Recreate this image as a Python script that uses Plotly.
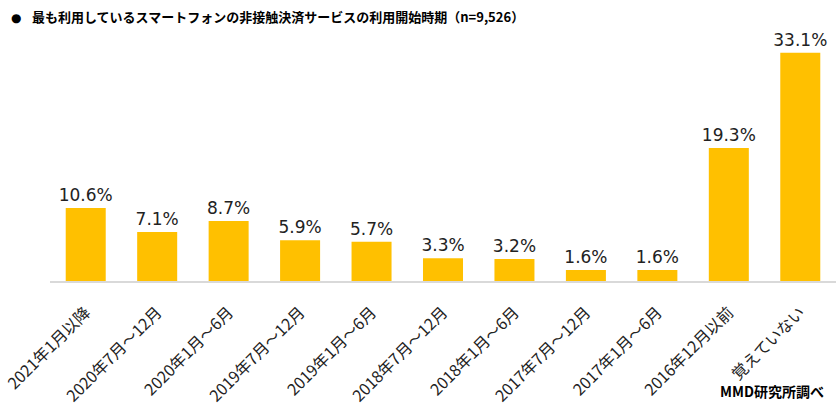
import plotly.graph_objects as go

categories = ["2021年1月以降", "2020年7月～12月", "2020年1月～6月", "2019年7月～12月",
              "2019年1月～6月", "2018年7月～12月", "2018年1月～6月", "2017年7月～12月",
              "2017年1月～6月", "2016年12月以前", "覚えていない"]
values = [10.6, 7.1, 8.7, 5.9, 5.7, 3.3, 3.2, 1.6, 1.6, 19.3, 33.1]
value_labels = [f"{v:.1f}%" for v in values]

title_text = "<b>最も利用しているスマートフォンの非接触決済サービスの利用開始時期（n=9,526）</b>"
source_text = "<b>MMD研究所調べ</b>"

fig = go.Figure(go.Bar(
    x=categories, y=values,
    marker=dict(color="#FFC000", line=dict(width=0)),
    text=value_labels, textposition="outside", cliponaxis=False,
    constraintext="none",
    textfont=dict(family="DejaVu Sans", size=17, color="#222222"),
))

fig.update_layout(
    width=837, height=408,
    margin=dict(l=50, r=1, t=30, b=127, autoexpand=False),
    paper_bgcolor="white", plot_bgcolor="white",
    bargap=0.44,
    showlegend=False,
    font=dict(family="Noto Sans CJK JP", color="#222222"),
    xaxis=dict(showline=True, linecolor="#D9D9D9", linewidth=1.5, ticks="",
               automargin=False, ticklabelstandoff=14,
               tickangle=-45, tickfont=dict(family="Noto Sans CJK JP", size=16, color="#222222"),
               showgrid=False),
    yaxis=dict(visible=False, range=[0, 36.4], showgrid=False, zeroline=False),
    annotations=[
        dict(text="●", xref="paper", yref="paper", x=0, y=1,
             xanchor="left", yanchor="bottom", showarrow=False,
             xshift=-41, yshift=3,
             font=dict(family="DejaVu Sans", size=12, color="#000000")),
        dict(text=title_text, xref="paper", yref="paper", x=0, y=1,
             xanchor="left", yanchor="bottom", showarrow=False,
             xshift=-20, yshift=2,
             font=dict(family="Noto Sans CJK JP", size=13, color="#000000")),
        dict(text=source_text, xref="paper", yref="paper", x=1, y=0,
             xanchor="right", yanchor="middle", showarrow=False,
             xshift=-10, yshift=-110,
             font=dict(family="Noto Sans CJK JP", size=14, color="#000000")),
    ],
)

fig.write_html("out.html", config={"displayModeBar": False},
               post_script="document.body.style.margin='0px';")
